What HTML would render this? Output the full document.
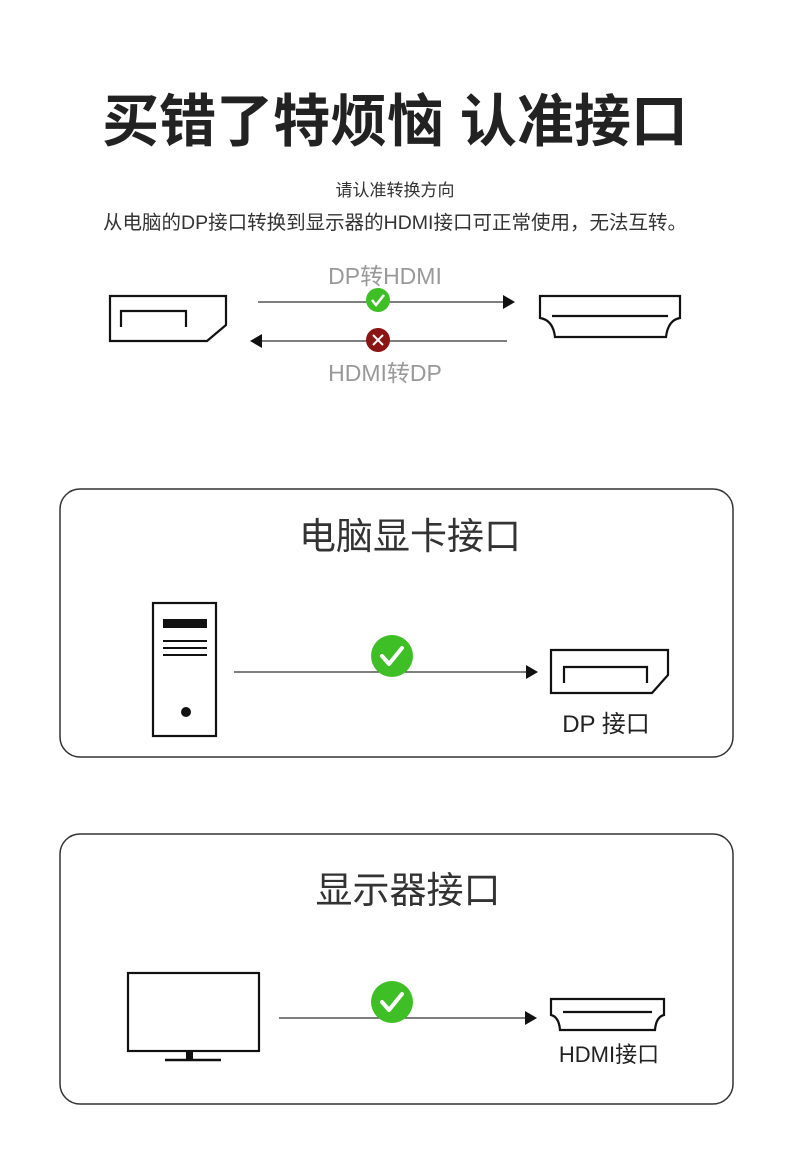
<!DOCTYPE html>
<html><head><meta charset="utf-8"><style>
html,body{margin:0;padding:0;background:#fff;}
svg{display:block}
text{font-family:"Liberation Sans","Noto Sans CJK SC",sans-serif;}
</style></head><body>
<svg width="790" height="1174" viewBox="0 0 790 1174" xmlns="http://www.w3.org/2000/svg">
<rect width="790" height="1174" fill="#fff"/>
<text x="395" y="141" text-anchor="middle" font-size="57" font-weight="bold" fill="#222">买错了特烦恼 认准接口</text>
<text x="395" y="196" text-anchor="middle" font-size="17" fill="#333">请认准转换方向</text>
<text x="395" y="229" text-anchor="middle" font-size="19.5" fill="#333">从电脑的DP接口转换到显示器的HDMI接口可正常使用，无法互转。</text>

<g fill="none" stroke="#111" stroke-width="2.2">
<polygon points="110,296 226,296 226,325 207,341 110,341"/>
<polyline points="121,327 121,311 186,311 186,327"/>
<path d="M540,296 H680 V318 Q668,320 666,337 H555 Q553,320 540,318 Z"/>
<line x1="552" y1="316" x2="668" y2="316"/>
</g>
<line x1="258" y1="302" x2="505" y2="302" stroke="#333" stroke-width="1.2"/>
<polygon points="515,302 503,295 503,309" fill="#111"/>
<line x1="262" y1="341" x2="507" y2="341" stroke="#333" stroke-width="1.2"/>
<polygon points="250,341 262,334 262,348" fill="#111"/>
<text x="385" y="284" text-anchor="middle" font-size="23" fill="#999">DP转HDMI</text>
<text x="385" y="381" text-anchor="middle" font-size="23" fill="#999">HDMI转DP</text>
<circle cx="378" cy="300" r="12" fill="#3fbf26"/>
<polyline points="372,300 376,305 384,295" fill="none" stroke="#fff" stroke-width="2.5"/>
<circle cx="378" cy="340" r="12" fill="#8b1515"/>
<path d="M373,335 L383,345 M383,335 L373,345" stroke="#fff" stroke-width="2"/>

<rect x="60" y="489" width="673" height="268" rx="20" fill="none" stroke="#333" stroke-width="1.5"/>
<text x="410" y="549" text-anchor="middle" font-size="37" fill="#333">电脑显卡接口</text>
<rect x="153" y="603" width="63" height="133" fill="none" stroke="#111" stroke-width="2.2"/>
<rect x="163" y="619" width="44" height="9" fill="#111"/>
<g stroke="#111" stroke-width="2"><line x1="163" y1="641" x2="207" y2="641"/><line x1="163" y1="648" x2="207" y2="648"/><line x1="163" y1="655" x2="207" y2="655"/></g>
<circle cx="186" cy="712" r="5" fill="#111"/>
<line x1="234" y1="672" x2="528" y2="672" stroke="#333" stroke-width="1.2"/>
<polygon points="538,672 526,665 526,679" fill="#111"/>
<circle cx="392" cy="656" r="21" fill="#3fbf26"/>
<polyline points="382,656 389,664 402,648" fill="none" stroke="#fff" stroke-width="4" stroke-linecap="round" stroke-linejoin="round"/>
<g fill="none" stroke="#111" stroke-width="2.2">
<polygon points="551,650 668,650 668,675 652,693 551,693"/>
<polyline points="564,683 564,667 647,667 647,683"/>
</g>
<text x="606" y="732" text-anchor="middle" font-size="24" fill="#222">DP 接口</text>

<rect x="60" y="834" width="673" height="270" rx="20" fill="none" stroke="#333" stroke-width="1.5"/>
<text x="408" y="903" text-anchor="middle" font-size="37" fill="#333">显示器接口</text>
<rect x="128" y="973" width="131" height="78" fill="none" stroke="#111" stroke-width="2.2"/>
<rect x="186" y="1051" width="7" height="8" fill="#111"/>
<line x1="165" y1="1060" x2="221" y2="1060" stroke="#111" stroke-width="2.5"/>
<line x1="279" y1="1018" x2="527" y2="1018" stroke="#333" stroke-width="1.2"/>
<polygon points="537,1018 525,1011 525,1025" fill="#111"/>
<circle cx="392" cy="1002" r="21" fill="#3fbf26"/>
<polyline points="382,1002 389,1010 402,994" fill="none" stroke="#fff" stroke-width="4" stroke-linecap="round" stroke-linejoin="round"/>
<g fill="none" stroke="#111" stroke-width="2.2">
<path d="M551,999 H664 V1015 Q656,1017 655,1030 H560 Q559,1017 551,1015 Z"/>
<line x1="563" y1="1012" x2="652" y2="1012"/>
</g>
<text x="609" y="1062" text-anchor="middle" font-size="22" fill="#222">HDMI接口</text>
</svg>
</body></html>
